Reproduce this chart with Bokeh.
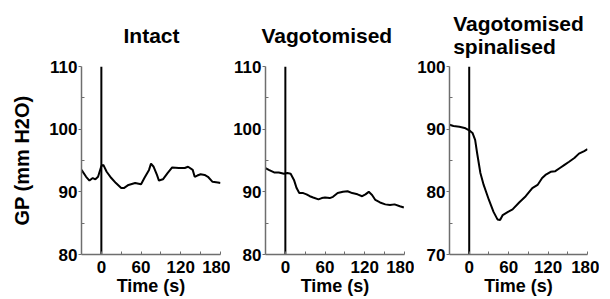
from bokeh.plotting import figure
from bokeh.layouts import row
from bokeh.models import Range1d, FixedTicker
from bokeh.embed import file_html
from bokeh.resources import INLINE

# ---- data ----
intact_t = [-30, -23, -18, -13, -9, -5, 0, 3, 8, 15, 22, 30, 34, 41, 51, 60, 65, 72, 75, 79, 84, 87, 93,
            100, 107, 117, 126, 131, 138, 141, 145, 150, 156, 161, 168, 176, 180]
intact_gp = [93.5, 92.4, 91.8, 92.2, 92.0, 92.4, 94.1, 94.3, 93.2, 92.2, 91.4, 90.6, 90.6, 91.1, 91.4, 91.2,
             92.2, 93.5, 94.5, 94.0, 92.7, 91.8, 92.0, 93.0, 93.9, 93.8, 93.8, 94.0, 93.5, 92.4, 92.6, 92.8,
             92.7, 92.4, 91.6, 91.5, 91.4]

vago_t = [-30, -25, -17, -10, -2, 3, 8, 13, 17, 21, 27, 32, 37, 42, 50, 55, 60, 67, 72, 79, 87, 94, 101,
          109, 116, 121, 126, 131, 136, 143, 151, 158, 165, 173, 179]
vago_gp = [93.8, 93.5, 93.1, 93.1, 92.9, 93.0, 92.9, 91.9, 90.6, 89.8, 89.8, 89.6, 89.3, 89.1, 88.8, 89.0,
           89.1, 89.0, 89.2, 89.8, 90.0, 90.1, 89.8, 89.6, 89.3, 89.6, 90.0, 89.5, 88.7, 88.3, 88.0, 87.9,
           88.0, 87.7, 87.5]

spin_t = [-30, -24, -15, -7, 0, 5, 9, 12, 17, 22, 30, 37, 43, 47, 51, 59, 66, 76, 86, 96, 104, 111, 116,
          124, 131, 138, 145, 152, 160, 167, 175, 180]
spin_gp = [90.7, 90.5, 90.4, 90.2, 89.8, 89.4, 88.3, 86.2, 83.0, 81.1, 78.7, 76.8, 75.6, 75.5, 76.3, 76.8,
           77.2, 78.3, 79.3, 80.6, 81.1, 82.2, 82.7, 83.2, 83.3, 83.8, 84.3, 84.8, 85.4, 86.1, 86.5, 86.8]

titles = ["Intact", "Vagotomised", "Vagotomised\nspinalised"]
y_ranges = [(80, 110), (80, 110), (70, 100)]
y_ticks = [[80, 90, 100, 110], [80, 90, 100, 110], [70, 80, 90, 100]]
y_minor = [[85, 95, 105], [85, 95, 105], [75, 85, 95]]
x_ticks = [0, 60, 120, 180]
x_minor = [30, 90, 150]
x_range = (-30, 180)
series = [(intact_t, intact_gp), (vago_t, vago_gp), (spin_t, spin_gp)]

FONT = "Liberation Sans"
AX = "#6e6e6e"

widths = [230, 184, 185]
borders_left = [81, 32, 31]
borders_right = [10, 10, 12]
standoffs = [40, 40, 17]
aligns = ["left", "left", "center"]
offsets = [42, -4, 0]

figs = []
for i in range(3):
    p = figure(width=widths[i], height=299, output_backend="svg", toolbar_location=None,
               x_range=Range1d(*x_range), y_range=Range1d(*y_ranges[i]),
               min_border_left=borders_left[i], min_border_right=borders_right[i],
               min_border_top=66, min_border_bottom=45)
    p.outline_line_color = None
    p.grid.visible = False
    p.background_fill_color = "white"
    p.border_fill_color = "white"

    p.title.text = titles[i]
    p.title.align = aligns[i]
    p.title.offset = offsets[i]
    p.title.text_font = FONT
    p.title.text_font_size = "21px"
    p.title.text_font_style = "bold"
    p.title.text_color = "black"
    p.title.standoff = standoffs[i]
    p.title.text_line_height = 1.0

    t, g = series[i]
    y0, y1 = y_ranges[i]
    p.segment(x0=[0], y0=[y0], x1=[0], y1=[y1], line_color="black", line_width=2)
    p.line(t, g, line_color="black", line_width=2)

    xa = p.xaxis[0]
    xa.ticker = FixedTicker(ticks=x_ticks, minor_ticks=x_minor)
    xa.axis_label = "Time (s)"
    ya = p.yaxis[0]
    ya.ticker = FixedTicker(ticks=y_ticks[i], minor_ticks=y_minor[i])
    if i == 0:
        ya.axis_label = "GP (mm H2O)"
    for ax in (xa, ya):
        ax.axis_line_color = AX
        ax.axis_line_width = 1.5
        ax.major_tick_line_color = AX
        ax.minor_tick_line_color = AX
        ax.major_label_text_font = FONT
        ax.major_label_text_font_size = "17px"
        ax.major_label_text_font_style = "bold"
        ax.major_label_text_color = "black"
        ax.axis_label_text_font = FONT
        ax.axis_label_text_font_size = "18px"
        ax.axis_label_text_font_style = "bold"
        ax.axis_label_text_color = "black"
    ya.axis_label_text_font_size = "20px"
    xa.major_tick_in = 3
    xa.major_tick_out = 0
    xa.minor_tick_in = 3
    xa.minor_tick_out = 0
    xa.major_label_standoff = 6
    xa.axis_label_standoff = 0
    ya.major_tick_in = 0
    ya.major_tick_out = 3
    ya.minor_tick_in = 3
    ya.minor_tick_out = 0
    ya.major_label_standoff = 1
    ya.axis_label_standoff = 13
    figs.append(p)

layout = row(*figs, spacing=0)
open("out.html", "w").write(file_html(layout, INLINE))
